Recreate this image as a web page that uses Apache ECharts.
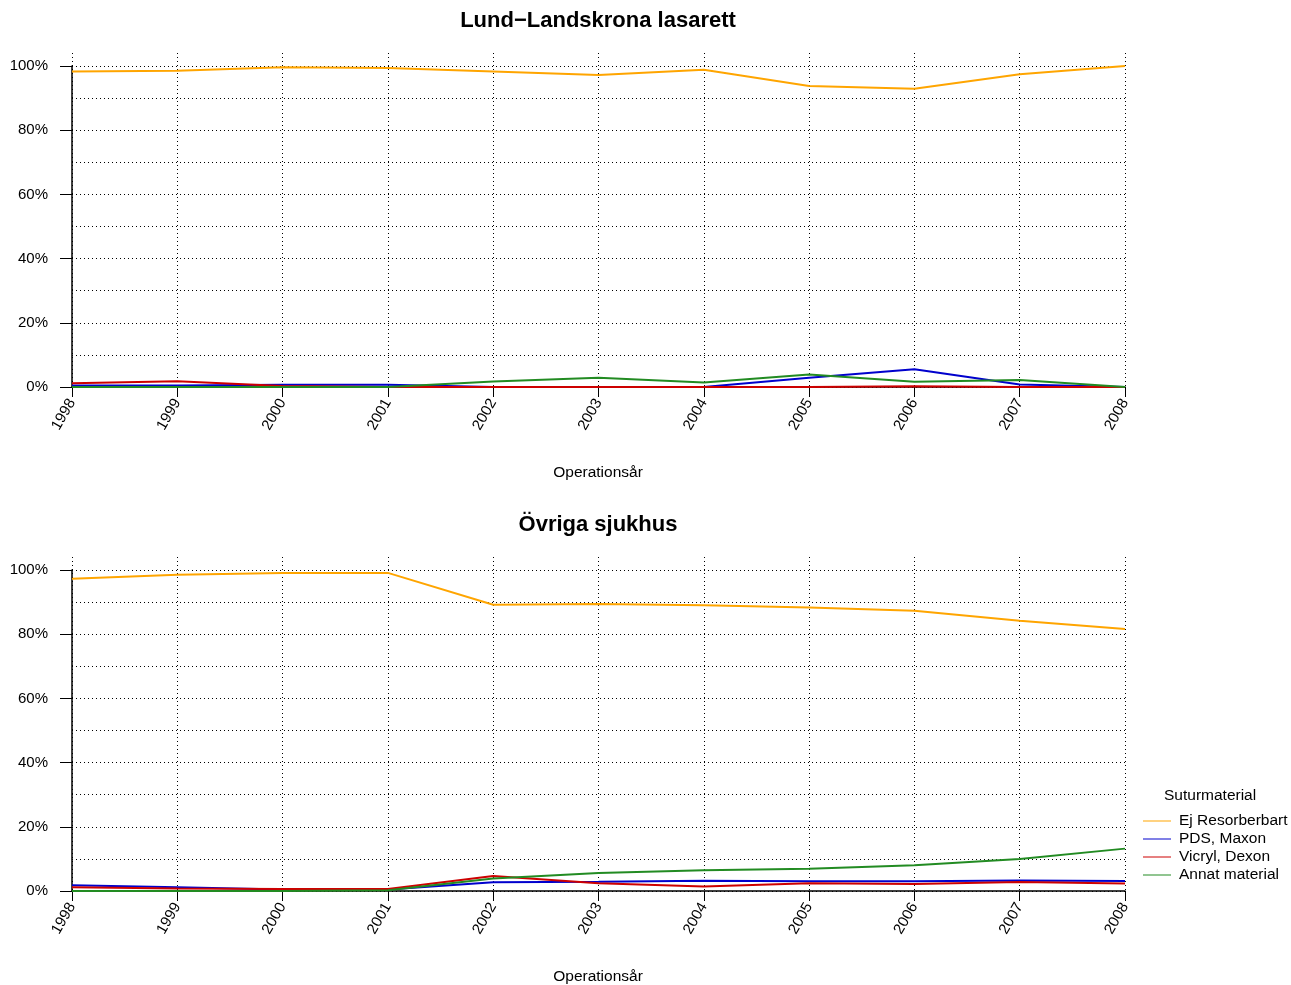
<!DOCTYPE html>
<html><head><meta charset="utf-8">
<script src="https://cdn.jsdelivr.net/npm/echarts@6/dist/echarts.min.js"></script>
<style>html,body{margin:0;padding:0;background:#fff;overflow:hidden}#c{width:100vw;height:100vh}</style>
</head><body><div id="c"></div>
<script>
var years = ['1998','1999','2000','2001','2002','2003','2004','2005','2006','2007','2008'];
var seriesNames = ['Ej Resorberbart','PDS, Maxon','Vicryl, Dexon','Annat material'];
var yTicks = [0,20,40,60,80,100];
var lundEj     = [98.3, 98.5, 99.6, 99.4, 98.3, 97.2, 98.8, 93.8, 92.9, 97.4, 100];
var lundPDS    = [0.5, 0.5, 0.7, 0.7, 0, 0, 0, 2.9, 5.5, 0.8, 0];
var lundVicryl = [1.2, 1.8, 0.3, 0, 0, 0, 0, 0, 0.2, 0, 0];
var lundAnnat  = [0, 0, 0, 0, 1.7, 2.9, 1.4, 3.9, 1.6, 2.2, 0];
var ovrEj      = [97.3, 98.5, 99.1, 99.1, 89.2, 89.4, 89.0, 88.3, 87.3, 84.2, 81.6];
var ovrPDS     = [1.8, 1.2, 0.5, 0.5, 2.7, 2.9, 3.2, 3.0, 3.0, 3.3, 3.1];
var ovrVicryl  = [1.2, 0.8, 0.6, 0.6, 4.7, 2.4, 1.4, 2.4, 2.2, 2.8, 2.3];
var ovrAnnat   = [0, 0, 0, 0.2, 3.9, 5.6, 6.5, 6.9, 8.0, 10.0, 13.2];
var titles = ['Lund\u2212Landskrona lasarett', '\u00d6vriga sjukhus'];
var xName = 'Operations\u00e5r';
var legendTitle = 'Suturmaterial';

var colors = ['#FFA500', '#0000CD', '#CD0000', '#228B22'];
var FONT = '"Liberation Sans", Arial, sans-serif';
var dots = { color: '#000', width: 1, type: [1, 3] };

var panels = [
  { top: 66, data: [lundEj, lundPDS, lundVicryl, lundAnnat] },
  { top: 570, data: [ovrEj, ovrPDS, ovrVicryl, ovrAnnat] }
];
var grid = [], xAxis = [], yAxis = [], series = [], graphic = [];
panels.forEach(function (p, k) {
  grid.push({ left: 72, right: 166, top: p.top, height: 321 });
  grid.push({ left: 72, right: 166, top: p.top - 13, height: 334 });
  var gMain = 2 * k, gOver = 2 * k + 1;
  xAxis.push({
    type: 'category', gridIndex: gMain, data: years, boundaryGap: false,
    axisLine: { show: true, lineStyle: { color: '#000', width: 1.5 } },
    axisTick: { show: true, interval: 0, length: 10, lineStyle: { color: '#000' } },
    axisLabel: { interval: 0, rotate: 60, margin: 13, color: '#000', fontSize: 15, fontFamily: FONT },
    splitLine: { show: false }
  });
  xAxis.push({
    type: 'category', gridIndex: gOver, data: years, boundaryGap: false,
    axisLine: { show: false }, axisTick: { show: false }, axisLabel: { show: false },
    splitLine: { show: true, interval: 0, lineStyle: dots }
  });
  var yMainIdx = yAxis.length;
  yAxis.push({
    type: 'value', gridIndex: gMain, min: 0, max: 100, interval: 10,
    axisLine: { show: true, lineStyle: { color: '#000', width: 1.5 } },
    axisTick: { show: false }, axisLabel: { show: false },
    splitLine: { show: true, lineStyle: dots }
  });
  yAxis.push({
    type: 'value', gridIndex: gOver, min: 0, max: 100,
    show: false, splitLine: { show: false }
  });
  yAxis.push({
    type: 'value', gridIndex: gMain, min: 0, max: 100, interval: 20, position: 'left',
    axisLine: { show: false },
    axisTick: { show: true, length: 12, lineStyle: { color: '#000' } },
    axisLabel: { margin: 24, color: '#000', fontSize: 15, fontFamily: FONT,
      formatter: function (v) { return yTicks.indexOf(v) >= 0 ? v + '%' : ''; } },
    splitLine: { show: false }
  });
  graphic.push({
    type: 'text', x: 598, y: p.top - 45,
    style: { text: titles[k], fill: '#000', font: 'bold 22px ' + FONT, textAlign: 'center', textVerticalAlign: 'middle' }
  });
  graphic.push({
    type: 'text', x: 598, y: p.top + 407,
    style: { text: xName, fill: '#000', font: '15.5px ' + FONT, textAlign: 'center', textVerticalAlign: 'middle' }
  });
  p.data.forEach(function (arr, i) {
    series.push({
      name: seriesNames[i], type: 'line', xAxisIndex: 2 * k, yAxisIndex: yMainIdx,
      data: arr, symbol: 'none', color: colors[i],
      lineStyle: { width: 2, color: colors[i] }, z: 3
    });
  });
});
graphic.push({
  type: 'text', x: 1164, y: 796,
  style: { text: legendTitle, fill: '#000', font: '15.5px ' + FONT, textVerticalAlign: 'middle' }
});

var chart = echarts.init(document.getElementById('c'), null, { renderer: 'canvas' });
chart.setOption({
  animation: false,
  backgroundColor: '#fff',
  grid: grid, xAxis: xAxis, yAxis: yAxis, series: series,
  legend: {
    data: seriesNames.map(function (n, i) { return { name: n, itemStyle: { color: colors[i] } }; }),
    orient: 'vertical', left: 1138, top: 807, icon: 'rect', itemWidth: 28, itemHeight: 1,
    itemGap: 0, selectedMode: false,
    textStyle: { color: '#000', fontSize: 15.5, fontFamily: FONT, lineHeight: 18, padding: [0, 0, 0, 3] }
  },
  graphic: graphic
});
</script></body></html>
